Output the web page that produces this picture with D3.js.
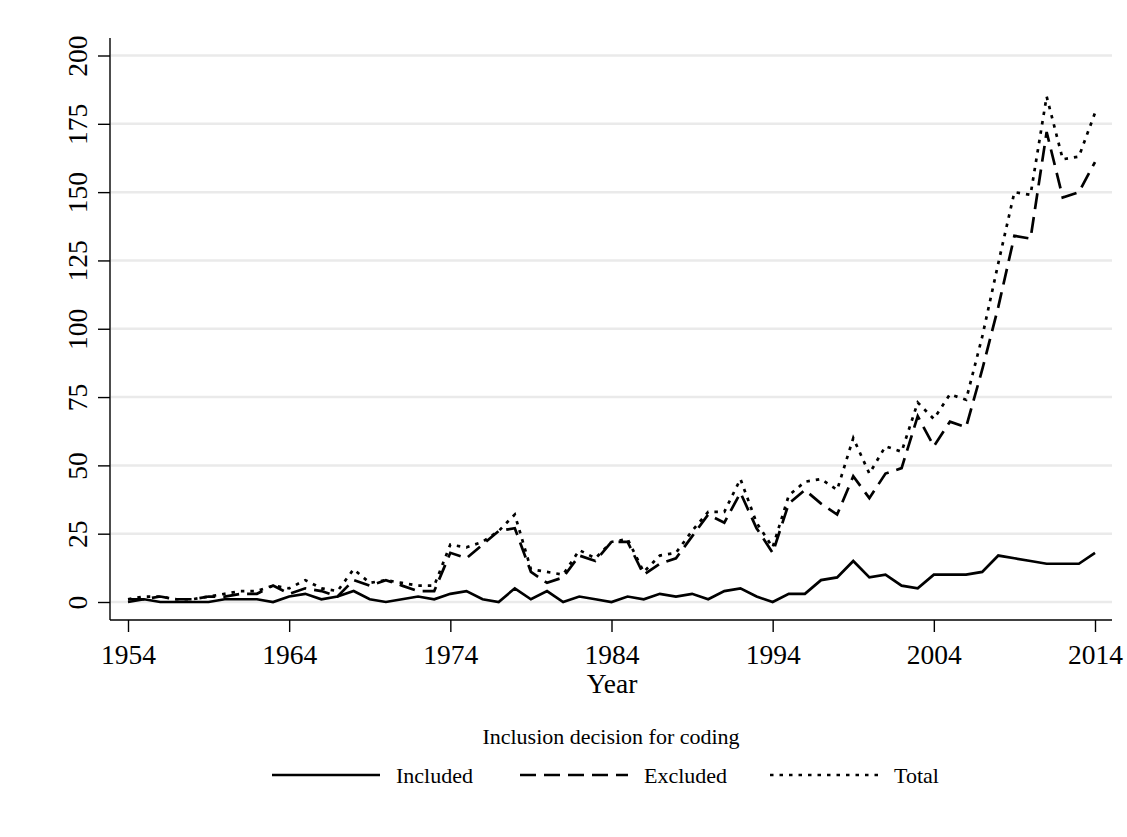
<!DOCTYPE html>
<html lang="en">
<head>
    <meta charset="utf-8">
    <title>Inclusion decision for coding</title>
    <script src="https://cdn.jsdelivr.net/npm/d3@7"></script>
</head>
<style>
    body {
        margin: 0;
        padding: 0;
        background-color: #ffffff;
    }
    svg text {
        font-family: "Liberation Serif", "Times New Roman", serif;
        fill: #000;
    }
    .line {
        fill: none;
        stroke: #000;
        stroke-width: 2.7;
    }
    .tick-label {
        font-size: 27.5px;
    }
    .axis-title {
        font-size: 27.5px;
    }
    .legend {
        font-size: 22px;
    }
</style>
<body>
    <svg width="1127" height="837" id="chart"></svg>

    <script>
        var years = d3.range(1954, 2015);
        var included = [0, 1, 0, 0, 0, 0, 1, 1, 1, 0,
                        2, 3, 1, 2, 4, 1, 0, 1, 2, 1,
                        3, 4, 1, 0, 5, 1, 4, 0, 2, 1,
                        0, 2, 1, 3, 2, 3, 1, 4, 5, 2,
                        0, 3, 3, 8, 9, 15, 9, 10, 6, 5,
                        10, 10, 10, 11, 17, 16, 15, 14, 14, 14,
                        18];
        var excluded = [1, 1, 2, 1, 1, 2, 2, 3, 3, 6,
                        3, 5, 4, 2, 8, 6, 8, 6, 4, 4,
                        18, 16, 21, 26, 27, 11, 7, 9, 17, 15,
                        22, 22, 10, 14, 16, 24, 32, 29, 40, 27,
                        18, 36, 41, 36, 32, 46, 38, 47, 49, 68,
                        57, 66, 64, 85, 108, 134, 133, 172, 148, 150,
                        161];
        var total = [1, 2, 2, 1, 1, 2, 3, 4, 4, 6,
                     5, 8, 5, 4, 12, 7, 8, 7, 6, 6,
                     21, 20, 22, 26, 32, 12, 11, 10, 19, 16,
                     22, 23, 11, 17, 18, 26, 33, 33, 45, 29,
                     20, 39, 44, 45, 41, 60, 47, 57, 55, 73,
                     67, 76, 74, 97, 124, 150, 149, 185, 162, 163,
                     179];
        var xTicks = [1954, 1964, 1974, 1984, 1994, 2004, 2014];
        var yTicks = [0, 25, 50, 75, 100, 125, 150, 175, 200];
        var seriesNames = ["Included", "Excluded", "Total"];

        var series = [
            {name: "Included", values: included, dash: null},
            {name: "Excluded", values: excluded, dash: "16,8"},
            {name: "Total", values: total, dash: "3.5,6"}
        ];

        var svg = d3.select("#chart");

        var plotLeft = 110, plotRight = 1112, plotTop = 38, plotBottom = 620;

        var x = d3.scaleLinear()
            .domain([1954, 2014])
            .range([128, 1095]);

        var y = d3.scaleLinear()
            .domain([0, 200])
            .range([602, 55.5]);

        // gridlines
        svg.append("g")
            .selectAll("line")
            .data(yTicks)
            .enter()
            .append("line")
            .attr("x1", plotLeft + 1)
            .attr("x2", plotRight)
            .attr("y1", function(d) { return y(d); })
            .attr("y2", function(d) { return y(d); })
            .style("stroke", "#eaeaea")
            .style("stroke-width", 2.5);

        // y axis
        var yAxis = svg.append("g")
            .attr("transform", "translate(" + plotLeft + ",0)")
            .call(d3.axisLeft(y).tickValues(yTicks).tickSize(12).tickSizeOuter(0));
        yAxis.attr("font-family", null).attr("font-size", null);
        yAxis.select(".domain").attr("d", "M0," + plotTop + "V" + plotBottom).style("stroke-width", 1.4);
        yAxis.selectAll(".tick line").style("stroke-width", 1.4);
        yAxis.selectAll(".tick text")
            .attr("class", "tick-label")
            .attr("x", -23)
            .attr("y", 0)
            .attr("dy", 0)
            .attr("text-anchor", "middle")
            .attr("transform", "rotate(-90,-23,0)");

        // x axis
        var xAxis = svg.append("g")
            .attr("transform", "translate(0," + plotBottom + ")")
            .call(d3.axisBottom(x).tickValues(xTicks).tickFormat(d3.format("d")).tickSize(12).tickSizeOuter(0));
        xAxis.attr("font-family", null).attr("font-size", null);
        xAxis.select(".domain").attr("d", "M" + plotLeft + ",0H" + plotRight).style("stroke-width", 1.4);
        xAxis.selectAll(".tick line").style("stroke-width", 1.4);
        xAxis.selectAll(".tick text")
            .attr("class", "tick-label")
            .attr("y", 44)
            .attr("dy", 0);

        svg.append("text")
            .attr("class", "axis-title")
            .attr("x", 612)
            .attr("y", 693)
            .attr("text-anchor", "middle")
            .text("Year");

        // lines
        series.forEach(function(s) {
            var line = d3.line()
                .x(function(d, i) { return x(years[i]); })
                .y(function(d) { return y(d); });
            svg.append("path")
                .datum(s.values)
                .attr("class", "line")
                .attr("d", line)
                .style("stroke-dasharray", s.dash);
        });

        // legend
        svg.append("text")
            .attr("class", "legend")
            .attr("x", 611)
            .attr("y", 744)
            .attr("text-anchor", "middle")
            .text("Inclusion decision for coding");

        var legendX = d3.scaleOrdinal()
            .domain(seriesNames)
            .range([272, 520, 770]);

        var legend = svg.append("g")
            .selectAll("g")
            .data(series)
            .enter()
            .append("g")
            .attr("transform", function(d) { return "translate(" + legendX(d.name) + ",775)"; });

        legend.append("line")
            .attr("x1", 0)
            .attr("x2", 108)
            .attr("class", "line")
            .style("stroke-dasharray", function(d) { return d.dash; });

        legend.append("text")
            .attr("class", "legend")
            .attr("x", 124)
            .attr("y", 8)
            .text(function(d) { return d.name; });
    </script>
</body>
</html>
